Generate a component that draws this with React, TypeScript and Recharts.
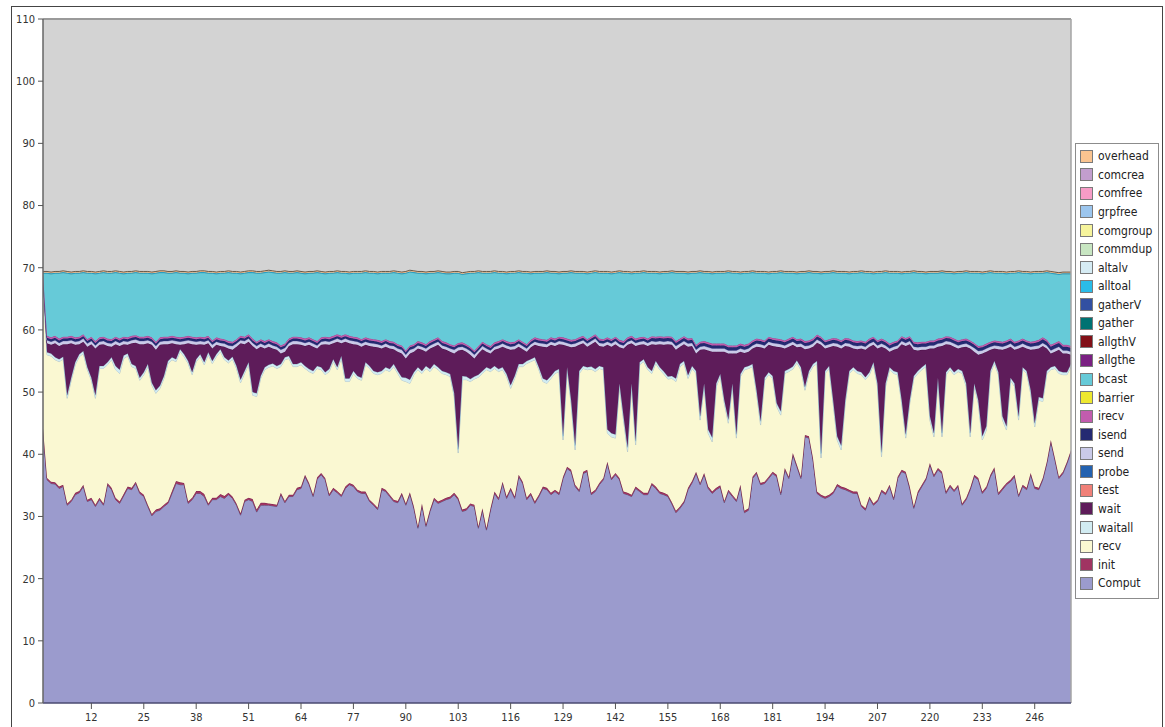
import React from 'react';
import { AreaChart, Area, XAxis, YAxis, CartesianGrid, Legend, ReferenceLine } from 'recharts';

// Sample index (x category) 0..255
const sampleCount = 256;
const xTicks = [12, 25, 38, 51, 64, 77, 90, 103, 116, 129, 142, 155, 168, 181, 194, 207, 220, 233, 246];
const yTicks = [0, 10, 20, 30, 40, 50, 60, 70, 80, 90, 100, 110];

// Comput (bottom layer) values
const computVals = [
  44, 35.9, 35.3, 35.2, 34.5, 34.8, 31.8, 32.4, 33.5, 33.8, 34.8, 32.4, 32.7, 31.6, 32.7, 31.8,
  35.1, 34.3, 32.7, 32.1, 33.3, 34.5, 34.3, 35.3, 33.7, 33.2, 31.6, 30.1, 30.8, 31.0, 31.6, 32.1,
  33.7, 35.3, 35.1, 35.1, 32.1, 32.7, 33.7, 33.7, 33.2, 31.8, 32.7, 32.7, 33.2, 32.9, 33.5, 32.9,
  31.8, 30.2, 32.4, 32.7, 32.4, 30.7, 31.8, 31.8, 31.8, 31.7, 31.6, 33.5, 32.2, 33.2, 33.2, 34.3,
  34.5, 36.4, 35.1, 33.2, 36.0, 36.7, 35.9, 33.3, 34.3, 33.8, 33.2, 34.5, 35.1, 34.8, 34.0, 33.7,
  33.7, 32.4, 31.8, 31.1, 34.3, 34.0, 33.2, 32.4, 32.2, 33.5, 31.8, 33.6, 31.3, 28.1, 31.8, 28.4,
  30.8, 32.7, 32.1, 32.4, 32.7, 32.9, 33.5, 32.7, 30.8, 31.0, 31.8, 31.6, 28.1, 31.0, 27.8, 31.0,
  33.7, 32.7, 35.3, 32.9, 34.3, 32.9, 36.4, 35.3, 32.7, 33.5, 32.1, 33.2, 34.5, 34.3, 33.5, 34.0,
  33.5, 36.1, 37.7, 37.2, 34.8, 34.0, 36.9, 37.2, 33.5, 34.0, 35.1, 35.9, 38.5, 35.9, 36.7, 35.9,
  33.7, 33.5, 33.2, 34.5, 34.0, 33.5, 33.5, 35.1, 34.5, 33.7, 33.5, 33.2, 32.0, 30.6, 31.3, 32.2,
  34.3, 35.4, 36.9, 35.1, 36.7, 34.5, 33.7, 34.3, 34.7, 32.2, 34.0, 33.2, 32.4, 34.8, 30.6, 31.0,
  36.1, 36.9, 35.1, 35.3, 36.1, 36.9, 36.4, 33.5, 37.5, 36.1, 39.9, 38.0, 36.1, 42.8, 42.6, 39.1,
  33.7, 33.2, 32.9, 33.2, 33.7, 34.9, 34.5, 34.3, 34.0, 33.7, 33.7, 31.6, 31.0, 32.9, 31.8, 32.4,
  34.0, 33.5, 34.8, 32.7, 36.1, 37.2, 36.9, 34.5, 31.3, 33.7, 34.8, 35.9, 38.3, 36.4, 37.5, 36.9,
  33.7, 34.8, 34.0, 34.8, 31.8, 32.7, 34.3, 36.4, 35.9, 33.7, 34.5, 36.4, 37.6, 33.5, 34.3, 35.1,
  35.6, 36.4, 33.2, 34.8, 34.3, 36.7, 34.5, 34.3, 35.9, 38.5, 42.0, 39.1, 36.1, 36.9, 38.5, 40.4,
];

// init layer thickness
const initVals = [
  0.2, 0.3, 0.3, 0.3, 0.3, 0.3, 0.3, 0.3, 0.3, 0.3, 0.3, 0.3, 0.3, 0.3, 0.3, 0.3,
  0.3, 0.3, 0.3, 0.3, 0.3, 0.3, 0.3, 0.3, 0.3, 0.3, 0.3, 0.3, 0.3, 0.3, 0.3, 0.3,
  0.4, 0.4, 0.4, 0.3, 0.3, 0.3, 0.4, 0.4, 0.4, 0.3, 0.3, 0.3, 0.4, 0.4, 0.3, 0.3,
  0.3, 0.3, 0.3, 0.3, 0.4, 0.4, 0.4, 0.4, 0.3, 0.3, 0.3, 0.3, 0.3, 0.3, 0.3, 0.3,
  0.3, 0.3, 0.3, 0.3, 0.3, 0.3, 0.3, 0.3, 0.3, 0.3, 0.3, 0.3, 0.3, 0.3, 0.3, 0.3,
  0.3, 0.3, 0.3, 0.3, 0.3, 0.3, 0.3, 0.3, 0.3, 0.3, 0.3, 0.3, 0.3, 0.3, 0.3, 0.3,
  0.3, 0.3, 0.3, 0.3, 0.3, 0.3, 0.3, 0.3, 0.3, 0.3, 0.3, 0.3, 0.3, 0.3, 0.3, 0.3,
  0.3, 0.3, 0.3, 0.3, 0.3, 0.3, 0.3, 0.3, 0.3, 0.3, 0.3, 0.3, 0.3, 0.3, 0.3, 0.3,
  0.3, 0.3, 0.3, 0.3, 0.3, 0.3, 0.3, 0.3, 0.3, 0.3, 0.3, 0.3, 0.3, 0.3, 0.3, 0.3,
  0.3, 0.3, 0.3, 0.3, 0.3, 0.3, 0.3, 0.3, 0.3, 0.3, 0.3, 0.3, 0.3, 0.3, 0.3, 0.3,
  0.3, 0.3, 0.3, 0.3, 0.3, 0.3, 0.3, 0.3, 0.3, 0.3, 0.3, 0.3, 0.3, 0.3, 0.3, 0.3,
  0.3, 0.3, 0.3, 0.3, 0.3, 0.3, 0.3, 0.3, 0.3, 0.3, 0.3, 0.3, 0.3, 0.3, 0.3, 0.3,
  0.3, 0.3, 0.3, 0.3, 0.3, 0.3, 0.3, 0.3, 0.3, 0.3, 0.3, 0.3, 0.3, 0.3, 0.3, 0.3,
  0.3, 0.3, 0.3, 0.3, 0.3, 0.3, 0.3, 0.3, 0.3, 0.3, 0.3, 0.3, 0.3, 0.3, 0.3, 0.3,
  0.3, 0.3, 0.3, 0.3, 0.3, 0.3, 0.3, 0.3, 0.3, 0.3, 0.3, 0.3, 0.3, 0.3, 0.3, 0.3,
  0.3, 0.3, 0.3, 0.3, 0.3, 0.3, 0.3, 0.3, 0.3, 0.3, 0.3, 0.3, 0.3, 0.3, 0.3, 0.3,
];

// Level of the top of the recv layer (cumulative)
const recvTopLevel = [
  67.5, 56.0, 55.8, 55.2, 54.9, 55.3, 49.0, 51.9, 54.4, 55.7, 56.2, 53.6, 51.9, 49.0, 53.8, 53.8,
  54.4, 55.2, 53.6, 53.0, 55.4, 55.8, 54.1, 53.8, 51.9, 52.8, 54.1, 51.1, 49.8, 50.6, 52.2, 54.6,
  55.2, 54.9, 56.5, 55.7, 54.6, 52.8, 54.9, 55.7, 54.4, 56.0, 54.6, 55.7, 56.5, 55.2, 54.7, 55.3,
  53.8, 51.5, 53.0, 54.4, 49.5, 49.3, 52.2, 53.6, 54.0, 54.2, 53.8, 54.1, 55.2, 55.4, 54.1, 54.1,
  54.4, 53.8, 53.3, 53.0, 53.8, 53.6, 52.8, 53.3, 54.9, 53.6, 55.4, 51.7, 51.7, 53.0, 52.2, 51.9,
  54.4, 53.8, 53.0, 52.8, 53.0, 53.6, 53.3, 54.1, 53.0, 51.9, 51.7, 51.4, 52.8, 53.6, 53.0, 53.8,
  53.3, 54.1, 53.6, 53.0, 52.8, 52.5, 49.3, 40.2, 52.0, 52.0, 51.7, 52.1, 52.4, 53.0, 53.6, 53.3,
  53.8, 53.3, 53.6, 52.5, 50.6, 52.2, 54.1, 54.1, 54.6, 54.9, 55.2, 53.6, 51.7, 51.4, 52.2, 53.0,
  53.3, 42.3, 53.6, 48.2, 40.7, 53.0, 53.8, 53.6, 53.7, 53.3, 53.8, 53.6, 43.4, 42.8, 42.6, 50.9,
  45.5, 40.4, 50.9, 41.5, 54.4, 54.9, 53.6, 53.0, 54.6, 53.6, 52.9, 52.1, 52.2, 51.7, 54.1, 54.6,
  52.2, 53.8, 53.0, 45.5, 50.9, 43.4, 42.0, 50.9, 52.5, 48.2, 45.0, 50.9, 42.6, 52.5, 53.6, 53.8,
  54.1, 49.8, 44.7, 51.9, 52.8, 52.2, 47.7, 46.3, 53.0, 53.3, 53.7, 54.7, 53.6, 50.3, 53.0, 54.1,
  54.6, 39.4, 53.0, 53.8, 48.2, 42.3, 40.7, 48.2, 53.0, 53.6, 53.0, 52.8, 52.0, 52.8, 54.4, 50.9,
  39.6, 50.9, 53.6, 53.0, 52.8, 48.2, 42.6, 48.2, 52.2, 53.0, 53.6, 54.1, 45.5, 42.8, 51.9, 42.8,
  52.8, 53.6, 52.8, 53.3, 53.0, 50.9, 42.8, 50.9, 48.2, 42.3, 43.9, 53.0, 54.6, 52.8, 45.5, 43.9,
  51.9, 50.9, 45.5, 53.6, 53.0, 49.8, 44.4, 48.7, 48.5, 53.0, 53.6, 53.8, 53.0, 52.8, 52.8, 54.1,
];

// waitall layer thickness
const waitallVals = [
  0.2, 0.4, 0.4, 0.4, 0.4, 0.4, 0.5, 0.4, 0.4, 0.4, 0.4, 0.4, 0.4, 0.5, 0.4, 0.4,
  0.4, 0.4, 0.6, 0.6, 0.5, 0.4, 0.4, 0.4, 0.4, 0.4, 0.4, 0.4, 0.5, 0.4, 0.4, 0.4,
  0.4, 0.4, 0.4, 0.4, 0.4, 0.4, 0.4, 0.4, 0.4, 0.4, 0.4, 0.4, 0.4, 0.4, 0.4, 0.4,
  0.4, 0.5, 0.4, 0.4, 0.5, 0.5, 0.4, 0.4, 0.4, 0.4, 0.4, 0.4, 0.4, 0.4, 0.4, 0.4,
  0.4, 0.4, 0.4, 0.4, 0.4, 0.4, 0.4, 0.4, 0.4, 0.4, 0.4, 0.5, 0.5, 0.4, 0.4, 0.4,
  0.4, 0.4, 0.4, 0.4, 0.4, 0.4, 0.4, 0.4, 0.4, 0.5, 0.6, 0.6, 0.4, 0.4, 0.4, 0.4,
  0.4, 0.4, 0.4, 0.4, 0.4, 0.4, 0.5, 0.6, 0.6, 0.5, 0.4, 0.4, 0.4, 0.4, 0.4, 0.4,
  0.4, 0.4, 0.4, 0.4, 0.5, 0.4, 0.4, 0.4, 0.4, 0.4, 0.4, 0.4, 0.5, 0.5, 0.4, 0.4,
  0.4, 0.6, 0.4, 0.5, 0.7, 0.4, 0.4, 0.4, 0.4, 0.4, 0.4, 0.4, 0.6, 0.6, 0.6, 0.5,
  0.6, 0.7, 0.5, 0.6, 0.4, 0.4, 0.4, 0.4, 0.4, 0.4, 0.4, 0.4, 0.4, 0.5, 0.4, 0.4,
  0.5, 0.4, 0.4, 0.6, 0.5, 0.6, 0.7, 0.5, 0.4, 0.5, 0.6, 0.5, 0.6, 0.4, 0.4, 0.4,
  0.4, 0.5, 0.6, 0.4, 0.4, 0.4, 0.5, 0.6, 0.4, 0.4, 0.4, 0.4, 0.4, 0.5, 0.4, 0.4,
  0.4, 0.7, 0.4, 0.4, 0.5, 0.6, 0.7, 0.5, 0.4, 0.4, 0.4, 0.4, 0.4, 0.4, 0.4, 0.5,
  0.7, 0.5, 0.4, 0.4, 0.4, 0.5, 0.6, 0.5, 0.4, 0.4, 0.4, 0.4, 0.6, 0.6, 0.4, 0.6,
  0.4, 0.4, 0.4, 0.4, 0.4, 0.5, 0.6, 0.5, 0.5, 0.6, 0.6, 0.4, 0.4, 0.4, 0.6, 0.6,
  0.4, 0.5, 0.6, 0.4, 0.4, 0.5, 0.6, 0.5, 0.5, 0.4, 0.4, 0.4, 0.4, 0.4, 0.4, 0.4,
];

// Level of the top of the wait layer (cumulative)
const waitTopLevel = [
  68.7, 57.85, 57.6, 57.85, 57.4, 57.7, 57.7, 57.85, 57.6, 57.7, 58.1, 57.3, 57.7, 57.0, 57.6, 57.7,
  57.4, 57.3, 57.7, 57.4, 57.7, 57.6, 57.85, 57.95, 57.7, 57.7, 57.85, 57.6, 56.8, 57.6, 57.7, 57.7,
  57.85, 57.7, 57.6, 57.7, 57.85, 57.7, 57.6, 57.7, 57.6, 57.85, 57.0, 57.6, 57.4, 57.3, 57.0, 56.8,
  57.3, 57.85, 57.7, 58.1, 57.4, 56.9, 57.3, 57.0, 57.3, 57.0, 56.8, 56.2, 56.5, 57.4, 57.7, 57.7,
  57.6, 57.4, 57.6, 57.3, 57.0, 57.6, 57.7, 57.6, 57.85, 58.1, 57.85, 58.1, 57.85, 57.7, 57.6, 57.3,
  57.6, 57.4, 57.3, 57.2, 57.0, 57.3, 57.0, 56.9, 56.5, 56.2, 55.4, 56.2, 56.5, 57.0, 56.8, 56.5,
  57.0, 57.3, 57.6, 57.0, 56.8, 56.5, 56.2, 56.7, 56.8, 56.5, 56.0, 55.4, 56.2, 56.9, 56.5, 56.2,
  56.8, 57.0, 57.3, 57.0, 56.8, 56.9, 57.3, 56.9, 56.5, 57.2, 57.6, 57.4, 57.3, 57.2, 57.6, 57.4,
  57.7, 57.6, 57.4, 57.2, 57.3, 57.6, 57.85, 57.3, 57.7, 58.1, 57.4, 57.3, 57.6, 57.3, 57.7, 57.2,
  57.0, 57.6, 57.85, 57.4, 57.6, 57.7, 57.4, 57.7, 57.6, 57.7, 57.6, 57.7, 57.6, 56.8, 57.3, 57.7,
  57.3, 57.4, 56.2, 56.8, 56.9, 56.7, 56.5, 56.5, 56.5, 56.5, 56.2, 56.2, 56.2, 56.5, 56.3, 56.5,
  57.0, 57.3, 57.2, 57.0, 57.6, 57.4, 57.3, 57.2, 57.0, 57.3, 57.6, 57.2, 57.3, 56.9, 57.0, 57.3,
  57.95, 57.6, 57.0, 57.2, 57.4, 57.3, 57.0, 57.4, 57.3, 57.0, 56.9, 57.0, 56.8, 57.3, 57.6, 57.0,
  57.3, 57.0, 56.5, 56.8, 57.0, 57.7, 57.4, 57.7, 56.8, 56.7, 56.8, 56.8, 57.0, 57.0, 57.3, 57.4,
  57.7, 57.6, 57.3, 57.0, 57.2, 57.3, 57.0, 56.5, 56.0, 56.2, 56.5, 56.8, 57.0, 56.9, 56.8, 57.0,
  57.3, 56.8, 57.0, 57.3, 57.0, 56.8, 56.9, 57.0, 57.4, 57.0, 56.2, 56.5, 56.8, 56.2, 56.2, 56.0,
];

// send / isend / irecv layer thickness
const sendVals = [
  0.1, 0.5, 0.5, 0.5, 0.5, 0.5, 0.5, 0.5, 0.5, 0.5, 0.5, 0.5, 0.5, 0.5, 0.5, 0.5,
  0.5, 0.5, 0.5, 0.5, 0.5, 0.5, 0.5, 0.5, 0.5, 0.5, 0.5, 0.5, 0.6, 0.5, 0.5, 0.5,
  0.5, 0.5, 0.5, 0.5, 0.5, 0.5, 0.5, 0.5, 0.5, 0.5, 0.6, 0.5, 0.5, 0.5, 0.5, 0.6,
  0.5, 0.5, 0.5, 0.5, 0.5, 0.5, 0.5, 0.5, 0.5, 0.5, 0.5, 0.6, 0.6, 0.5, 0.5, 0.5,
  0.5, 0.5, 0.5, 0.5, 0.5, 0.5, 0.5, 0.5, 0.5, 0.5, 0.5, 0.5, 0.5, 0.5, 0.5, 0.5,
  0.5, 0.5, 0.5, 0.5, 0.5, 0.5, 0.5, 0.5, 0.5, 0.6, 0.6, 0.6, 0.5, 0.5, 0.5, 0.5,
  0.5, 0.5, 0.5, 0.5, 0.5, 0.5, 0.6, 0.5, 0.5, 0.5, 0.6, 0.6, 0.5, 0.5, 0.5, 0.5,
  0.5, 0.5, 0.5, 0.5, 0.5, 0.5, 0.5, 0.5, 0.5, 0.5, 0.5, 0.5, 0.5, 0.5, 0.5, 0.5,
  0.5, 0.5, 0.5, 0.5, 0.5, 0.5, 0.5, 0.5, 0.5, 0.5, 0.5, 0.5, 0.5, 0.5, 0.5, 0.5,
  0.5, 0.5, 0.5, 0.5, 0.5, 0.5, 0.5, 0.5, 0.5, 0.5, 0.5, 0.5, 0.5, 0.6, 0.5, 0.5,
  0.5, 0.5, 0.6, 0.5, 0.5, 0.5, 0.5, 0.5, 0.5, 0.5, 0.5, 0.5, 0.5, 0.5, 0.5, 0.5,
  0.5, 0.5, 0.5, 0.5, 0.5, 0.5, 0.5, 0.5, 0.5, 0.5, 0.5, 0.5, 0.5, 0.5, 0.5, 0.5,
  0.5, 0.5, 0.5, 0.5, 0.5, 0.5, 0.5, 0.5, 0.5, 0.5, 0.5, 0.5, 0.5, 0.5, 0.5, 0.5,
  0.5, 0.5, 0.5, 0.5, 0.5, 0.5, 0.5, 0.5, 0.5, 0.5, 0.5, 0.5, 0.5, 0.5, 0.5, 0.5,
  0.5, 0.5, 0.5, 0.5, 0.5, 0.5, 0.5, 0.6, 0.6, 0.5, 0.5, 0.5, 0.5, 0.5, 0.5, 0.5,
  0.5, 0.5, 0.5, 0.5, 0.5, 0.5, 0.5, 0.5, 0.5, 0.5, 0.5, 0.5, 0.5, 0.5, 0.5, 0.5,
];

const isendVals = [
  0.1, 0.4, 0.4, 0.4, 0.4, 0.4, 0.4, 0.4, 0.4, 0.4, 0.4, 0.4, 0.4, 0.4, 0.4, 0.4,
  0.4, 0.4, 0.4, 0.4, 0.4, 0.4, 0.4, 0.4, 0.4, 0.4, 0.4, 0.4, 0.4, 0.4, 0.4, 0.4,
  0.4, 0.4, 0.4, 0.4, 0.4, 0.4, 0.4, 0.4, 0.4, 0.4, 0.4, 0.4, 0.4, 0.4, 0.4, 0.4,
  0.4, 0.4, 0.4, 0.4, 0.4, 0.4, 0.4, 0.4, 0.4, 0.4, 0.4, 0.4, 0.4, 0.4, 0.4, 0.4,
  0.4, 0.4, 0.4, 0.4, 0.4, 0.4, 0.4, 0.4, 0.4, 0.4, 0.4, 0.4, 0.4, 0.4, 0.4, 0.4,
  0.4, 0.4, 0.4, 0.4, 0.4, 0.4, 0.4, 0.4, 0.4, 0.4, 0.4, 0.4, 0.4, 0.4, 0.4, 0.4,
  0.4, 0.4, 0.4, 0.4, 0.4, 0.4, 0.4, 0.4, 0.4, 0.4, 0.4, 0.4, 0.4, 0.4, 0.4, 0.4,
  0.4, 0.4, 0.4, 0.4, 0.4, 0.4, 0.4, 0.4, 0.4, 0.4, 0.4, 0.4, 0.4, 0.4, 0.4, 0.4,
  0.4, 0.4, 0.4, 0.4, 0.4, 0.4, 0.4, 0.4, 0.4, 0.4, 0.4, 0.4, 0.4, 0.4, 0.4, 0.4,
  0.4, 0.4, 0.4, 0.4, 0.4, 0.4, 0.4, 0.5, 0.5, 0.5, 0.5, 0.5, 0.5, 0.5, 0.5, 0.5,
  0.5, 0.5, 0.5, 0.5, 0.5, 0.5, 0.5, 0.5, 0.5, 0.5, 0.5, 0.5, 0.5, 0.5, 0.5, 0.5,
  0.5, 0.5, 0.5, 0.5, 0.5, 0.5, 0.5, 0.5, 0.5, 0.5, 0.5, 0.5, 0.5, 0.5, 0.5, 0.5,
  0.5, 0.5, 0.5, 0.5, 0.5, 0.5, 0.5, 0.5, 0.5, 0.5, 0.5, 0.5, 0.5, 0.5, 0.5, 0.5,
  0.5, 0.5, 0.5, 0.5, 0.5, 0.5, 0.5, 0.5, 0.5, 0.5, 0.5, 0.5, 0.5, 0.5, 0.5, 0.5,
  0.5, 0.5, 0.5, 0.5, 0.5, 0.5, 0.5, 0.5, 0.5, 0.5, 0.5, 0.5, 0.5, 0.5, 0.5, 0.5,
  0.5, 0.5, 0.5, 0.5, 0.5, 0.5, 0.5, 0.6, 0.6, 0.6, 0.6, 0.6, 0.6, 0.6, 0.6, 0.6,
];

const irecvVals = [
  0.1, 0.3, 0.3, 0.3, 0.3, 0.3, 0.3, 0.3, 0.3, 0.3, 0.3, 0.3, 0.3, 0.3, 0.3, 0.3,
  0.3, 0.3, 0.3, 0.3, 0.3, 0.3, 0.3, 0.3, 0.3, 0.3, 0.3, 0.3, 0.3, 0.3, 0.3, 0.3,
  0.3, 0.3, 0.3, 0.3, 0.3, 0.3, 0.3, 0.3, 0.3, 0.3, 0.3, 0.3, 0.3, 0.3, 0.3, 0.3,
  0.3, 0.3, 0.3, 0.3, 0.3, 0.3, 0.3, 0.3, 0.3, 0.3, 0.3, 0.3, 0.3, 0.3, 0.3, 0.3,
  0.3, 0.3, 0.3, 0.3, 0.3, 0.3, 0.3, 0.3, 0.3, 0.3, 0.3, 0.3, 0.3, 0.3, 0.3, 0.3,
  0.3, 0.3, 0.3, 0.3, 0.3, 0.3, 0.3, 0.3, 0.3, 0.3, 0.3, 0.3, 0.3, 0.3, 0.3, 0.3,
  0.3, 0.3, 0.3, 0.3, 0.3, 0.3, 0.3, 0.3, 0.3, 0.3, 0.3, 0.3, 0.3, 0.3, 0.3, 0.3,
  0.3, 0.3, 0.3, 0.3, 0.3, 0.3, 0.3, 0.3, 0.3, 0.3, 0.3, 0.3, 0.3, 0.3, 0.3, 0.3,
  0.3, 0.3, 0.3, 0.3, 0.3, 0.3, 0.3, 0.3, 0.3, 0.3, 0.3, 0.3, 0.3, 0.3, 0.3, 0.3,
  0.3, 0.3, 0.3, 0.3, 0.3, 0.3, 0.3, 0.3, 0.3, 0.3, 0.3, 0.3, 0.3, 0.3, 0.3, 0.3,
  0.3, 0.3, 0.3, 0.3, 0.3, 0.3, 0.3, 0.3, 0.3, 0.3, 0.3, 0.3, 0.3, 0.3, 0.3, 0.3,
  0.3, 0.3, 0.3, 0.3, 0.3, 0.3, 0.3, 0.3, 0.3, 0.3, 0.3, 0.3, 0.3, 0.3, 0.3, 0.3,
  0.3, 0.3, 0.3, 0.3, 0.3, 0.3, 0.3, 0.3, 0.3, 0.3, 0.3, 0.3, 0.3, 0.3, 0.3, 0.3,
  0.3, 0.3, 0.3, 0.3, 0.3, 0.3, 0.3, 0.3, 0.3, 0.3, 0.3, 0.3, 0.3, 0.3, 0.3, 0.3,
  0.3, 0.3, 0.3, 0.3, 0.3, 0.3, 0.3, 0.3, 0.3, 0.3, 0.3, 0.3, 0.3, 0.3, 0.3, 0.3,
  0.3, 0.3, 0.3, 0.3, 0.3, 0.3, 0.3, 0.3, 0.3, 0.3, 0.3, 0.3, 0.3, 0.3, 0.3, 0.3,
];

// Level of the top of the bcast layer (cumulative)
const bcastTopLevel = [
  69.1, 69.1, 69.0, 69.1, 69.1, 69.2, 69.1, 69.0, 69.1, 69.1, 69.2, 69.1, 69.1, 69.0, 69.1, 69.2,
  69.1, 69.1, 69.2, 69.1, 69.0, 69.1, 69.1, 69.2, 69.1, 69.1, 69.1, 69.0, 69.1, 69.2, 69.2, 69.1,
  69.1, 69.2, 69.1, 69.1, 69.0, 69.1, 69.1, 69.2, 69.2, 69.1, 69.1, 69.0, 69.1, 69.1, 69.2, 69.1,
  69.1, 69.0, 69.1, 69.2, 69.2, 69.1, 69.1, 69.2, 69.3, 69.2, 69.1, 69.1, 69.2, 69.1, 69.1, 69.2,
  69.1, 69.0, 69.1, 69.1, 69.2, 69.1, 69.0, 69.1, 69.1, 69.2, 69.1, 69.1, 69.0, 69.1, 69.1, 69.1,
  69.2, 69.1, 69.1, 69.0, 69.1, 69.1, 69.1, 69.2, 69.1, 69.0, 69.1, 69.3, 69.2, 69.1, 69.1, 69.0,
  69.1, 69.1, 69.2, 69.1, 69.0, 69.0, 69.1, 69.1, 68.9, 69.0, 69.1, 69.1, 69.2, 69.1, 69.1, 69.1,
  69.2, 69.1, 69.1, 69.0, 69.1, 69.1, 69.2, 69.1, 69.1, 69.0, 69.1, 69.1, 69.1, 69.2, 69.1, 69.1,
  69.0, 69.1, 69.1, 69.2, 69.1, 69.1, 69.1, 69.0, 69.1, 69.2, 69.1, 69.1, 69.1, 69.0, 69.1, 69.2,
  69.1, 69.1, 69.0, 69.1, 69.1, 69.2, 69.1, 69.1, 69.1, 69.0, 69.1, 69.1, 69.2, 69.1, 69.1, 69.1,
  69.0, 69.1, 69.1, 69.2, 69.1, 69.1, 69.0, 69.1, 69.1, 69.1, 69.2, 69.1, 69.1, 69.0, 69.1, 69.1,
  69.2, 69.1, 69.1, 69.1, 69.0, 69.1, 69.1, 69.2, 69.1, 69.1, 69.1, 69.0, 69.1, 69.1, 69.2, 69.1,
  69.1, 69.0, 69.1, 69.1, 69.2, 69.1, 69.1, 69.1, 69.0, 69.1, 69.1, 69.2, 69.1, 69.1, 69.0, 69.1,
  69.1, 69.2, 69.1, 69.1, 69.1, 69.0, 69.1, 69.1, 69.2, 69.1, 69.1, 69.0, 69.1, 69.1, 69.1, 69.2,
  69.1, 69.1, 69.0, 69.1, 69.1, 69.2, 69.1, 69.1, 69.1, 69.0, 69.1, 69.2, 69.1, 69.1, 69.1, 69.0,
  69.1, 69.1, 69.2, 69.1, 69.1, 69.0, 69.1, 69.1, 69.1, 69.2, 69.1, 69.0, 68.9, 69.0, 69.0, 69.0,
];

const alltoalVals = [0.1];
const overheadVals = [0.2];

const SERIES = [
  { key: 'Comput', fill: '#9b9bcd', stroke: '#5e5e86' },
  { key: 'init', fill: '#a03462', stroke: '#7a2048' },
  { key: 'recv', fill: '#faf8d2', stroke: '#b8c8c8' },
  { key: 'waitall', fill: '#d2ecf2', stroke: '#9cc8d4' },
  { key: 'wait', fill: '#5e1c5a', stroke: '#4a1046' },
  { key: 'test', fill: '#f08078', stroke: 'none' },
  { key: 'probe', fill: '#2462b0', stroke: 'none' },
  { key: 'send', fill: '#cacae8', stroke: '#a0a0cc' },
  { key: 'isend', fill: '#242a72', stroke: '#1a2060' },
  { key: 'irecv', fill: '#c25cae', stroke: '#a04890' },
  { key: 'barrier', fill: '#eee830', stroke: 'none' },
  { key: 'bcast', fill: '#66cad8', stroke: '#3e9aac' },
  { key: 'allgthe', fill: '#7a2082', stroke: 'none' },
  { key: 'allgthV', fill: '#821018', stroke: 'none' },
  { key: 'gather', fill: '#007272', stroke: 'none' },
  { key: 'gatherV', fill: '#3250a2', stroke: 'none' },
  { key: 'alltoal', fill: '#2abce8', stroke: '#1a8cb8' },
  { key: 'altalv', fill: '#d6ecf4', stroke: 'none' },
  { key: 'commdup', fill: '#c8e6c2', stroke: 'none' },
  { key: 'comgroup', fill: '#f6f49c', stroke: 'none' },
  { key: 'grpfree', fill: '#9cc6ee', stroke: 'none' },
  { key: 'comfree', fill: '#f69cc6', stroke: 'none' },
  { key: 'comcrea', fill: '#c29ece', stroke: 'none' },
  { key: 'overhead', fill: '#fac490', stroke: '#6a5848' },
];

const r2 = (v: number) => Math.round(v * 100) / 100;

const data = computVals.slice(0, sampleCount).map((c, i) => {
  const row: Record<string, number> = { x: i };
  row.Comput = c;
  row.init = initVals[i];
  row.recv = r2(recvTopLevel[i] - c - initVals[i]);
  row.waitall = waitallVals[i];
  row.wait = r2(waitTopLevel[i] - recvTopLevel[i] - waitallVals[i]);
  row.send = sendVals[i];
  row.isend = isendVals[i];
  row.irecv = irecvVals[i];
  row.bcast = r2(bcastTopLevel[i] - waitTopLevel[i] - sendVals[i] - isendVals[i] - irecvVals[i]);
  row.alltoal = alltoalVals[0];
  row.overhead = overheadVals[0];
  return row;
});

const FONT = "'DejaVu Sans Condensed', 'Liberation Sans Narrow', 'DejaVu Sans', sans-serif";

const LegendBox = () => (
  <div
    style={{
      width: 84,
      boxSizing: 'border-box',
      border: '1px solid #8c8c8c',
      background: '#fff',
      padding: '3px 0 5px 4px',
      fontFamily: FONT,
      fontSize: 12,
      color: '#222',
    }}
  >
    {[...SERIES].reverse().map((s) => (
      <div key={s.key} style={{ display: 'flex', alignItems: 'center', height: 18.57 }}>
        <span
          style={{
            display: 'inline-block',
            width: 11,
            height: 11,
            background: s.fill,
            border: '1px solid #7a7a7a',
            marginRight: 5,
            flex: '0 0 auto',
          }}
        />
        <span style={{ lineHeight: '14px' }}>{s.key}</span>
      </div>
    ))}
  </div>
);

export default function App() {
  return (
    <div style={{ position: 'relative', width: 1165, height: 727, background: '#fff' }}>
      <style>{`body{margin:0;overflow:hidden;}`}</style>
      <div
        style={{
          position: 'absolute',
          left: 11,
          top: 6,
          width: 1152,
          height: 760,
          border: '1px solid #444',
          boxSizing: 'border-box',
        }}
      />
      <div style={{ position: 'absolute', left: 0, top: 0 }}>
        <AreaChart
          width={1165}
          height={727}
          data={data}
          margin={{ top: 19, right: 10, bottom: 0, left: 0 }}
        >
          <CartesianGrid fill="#d3d3d3" stroke="none" horizontal={false} vertical={false} />
          <XAxis
            dataKey="x"
            type="number"
            domain={[0, 255]}
            ticks={xTicks}
            interval={0}
            height={24}
            tickSize={6}
            tickMargin={4}
            axisLine={{ stroke: '#4a4a70', strokeWidth: 1.5 }}
            tickLine={{ stroke: '#555' }}
            tick={{ fill: '#333', fontSize: 11, fontFamily: FONT }}
            allowDataOverflow
          />
          <YAxis
            type="number"
            domain={[0, 110]}
            ticks={yTicks}
            interval={0}
            width={43}
            tickSize={5}
            tickMargin={3}
            axisLine={{ stroke: '#666', strokeWidth: 1.5 }}
            tickLine={{ stroke: '#555' }}
            tick={{ fill: '#333', fontSize: 11, fontFamily: FONT }}
            allowDataOverflow
          />
          <Legend
            layout="vertical"
            align="right"
            verticalAlign="top"
            content={LegendBox}
            wrapperStyle={{ top: 143, right: 6 }}
          />
          {SERIES.map((s) => (
            <Area
              key={s.key}
              type="linear"
              dataKey={s.key}
              stackId="1"
              fill={s.fill}
              fillOpacity={1}
              stroke={s.stroke}
              strokeWidth={s.stroke === 'none' ? 0 : 1}
              dot={false}
              activeDot={false}
              isAnimationActive={false}
            />
          ))}
          <ReferenceLine y={110} stroke="#9a9a9a" strokeWidth={2} />
          <ReferenceLine x={255} stroke="#a5a5a5" strokeWidth={1.5} />
        </AreaChart>
      </div>
    </div>
  );
}
